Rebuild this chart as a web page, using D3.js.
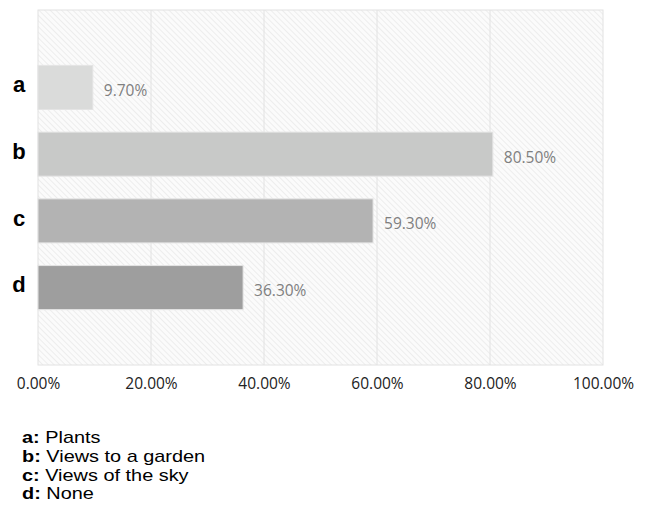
<!DOCTYPE html>
<html>
<head>
<meta charset="utf-8">
<script src="https://cdn.jsdelivr.net/npm/d3@7"></script>
<style>
  body { margin: 0; background: #fff; }
  svg { display: block; }
</style>
</head>
<body>
<div id="chart"></div>
<script>
// data
var categories = ["a", "b", "c", "d"];
var values = [9.7, 80.5, 59.3, 36.3];
var barColors = ["#dadbda", "#c8c9c8", "#b3b3b3", "#9e9e9e"];
var xTicks = [0, 20, 40, 60, 80, 100];
var legendKeys = ["a:", "b:", "c:", "d:"];
var legendNames = ["Plants", "Views to a garden", "Views of the sky", "None"];

var svgWidth = 646, svgHeight = 520;
var margin = { top: 10, left: 38, right: 43, bottom: 155 };
var width = svgWidth - margin.left - margin.right;
var height = svgHeight - margin.top - margin.bottom;

var svg = d3.select("#chart").append("svg")
  .attr("width", svgWidth)
  .attr("height", svgHeight);

// hatch pattern for the plot background
var defs = svg.append("defs");
var pattern = defs.append("pattern")
  .attr("id", "hatch")
  .attr("patternUnits", "userSpaceOnUse")
  .attr("width", 4)
  .attr("height", 4)
  .attr("patternTransform", "rotate(-45)");
pattern.append("rect")
  .attr("width", 4).attr("height", 4).attr("fill", "#fbfbfb");
pattern.append("line")
  .attr("x1", 0).attr("y1", 0).attr("x2", 0).attr("y2", 4)
  .attr("stroke", "#e4e4e4").attr("stroke-width", 1.2);

var chartGroup = svg.append("g")
  .attr("transform", `translate(${margin.left}, ${margin.top})`);

var x = d3.scaleLinear().domain([0, 100]).range([0, width]);
var y = d3.scaleBand().domain(categories).range([0, height])
  .paddingInner(0.34).paddingOuter(0.83);

chartGroup.append("rect")
  .attr("width", width)
  .attr("height", height)
  .attr("fill", "url(#hatch)")
  .attr("stroke", "#e2e2e2")
  .attr("stroke-width", 1);

// gridlines
chartGroup.selectAll(".grid")
  .data(xTicks.slice(1, -1))
  .enter()
  .append("line")
  .attr("x1", d => x(d)).attr("x2", d => x(d))
  .attr("y1", 0).attr("y2", height)
  .attr("stroke", "#e2e2e2")
  .attr("stroke-width", 1);

// bars
chartGroup.selectAll(".bar")
  .data(values)
  .enter()
  .append("rect")
  .attr("x", 0)
  .attr("y", (d, i) => y(categories[i]))
  .attr("width", d => x(d))
  .attr("height", y.bandwidth())
  .attr("fill", (d, i) => barColors[i])
  .attr("stroke", "#e4e4e4")
  .attr("stroke-width", 1);

// value labels
chartGroup.selectAll(".val")
  .data(values)
  .enter()
  .append("text")
  .attr("x", d => x(d) + 11)
  .attr("y", (d, i) => y(categories[i]) + y.bandwidth() / 2 + 3)
  .attr("dy", "0.35em")
  .attr("font-family", "Open Sans")
  .attr("font-size", "15.5px")
  .attr("fill", "#7f7f7f")
  .text(d => d.toFixed(2) + "%");

// category labels
chartGroup.selectAll(".cat")
  .data(categories)
  .enter()
  .append("text")
  .attr("x", -19)
  .attr("y", d => y(d) + y.bandwidth() / 2 - 3)
  .attr("dy", "0.35em")
  .attr("text-anchor", "middle")
  .attr("font-family", "Liberation Sans, Arial")
  .attr("font-weight", "bold")
  .attr("font-size", "22px")
  .attr("fill", "#000")
  .text(d => d);

// x axis
var bottomAxis = d3.axisBottom(x)
  .tickValues(xTicks)
  .tickSize(0)
  .tickPadding(13)
  .tickFormat(d => d.toFixed(2) + "%");

var xAxis = chartGroup.append("g")
  .attr("transform", `translate(0, ${height})`)
  .call(bottomAxis);
xAxis.select(".domain").remove();
xAxis.selectAll("text")
  .attr("font-family", "Open Sans")
  .attr("font-size", "15.5px")
  .attr("fill", "#222");

// legend (text in the picture is a little wider than Arial)
var legend = svg.append("g")
  .attr("transform", "translate(22, 443) scale(1.17, 1)");
legendKeys.forEach(function(k, i) {
  var t = legend.append("text")
    .attr("y", i * 18.8)
    .attr("font-family", "Liberation Sans, Arial")
    .attr("font-size", "17px")
    .attr("fill", "#000");
  t.append("tspan").attr("font-weight", "bold").text(k);
  t.append("tspan").text(" " + legendNames[i]);
});
</script>
</body>
</html>
